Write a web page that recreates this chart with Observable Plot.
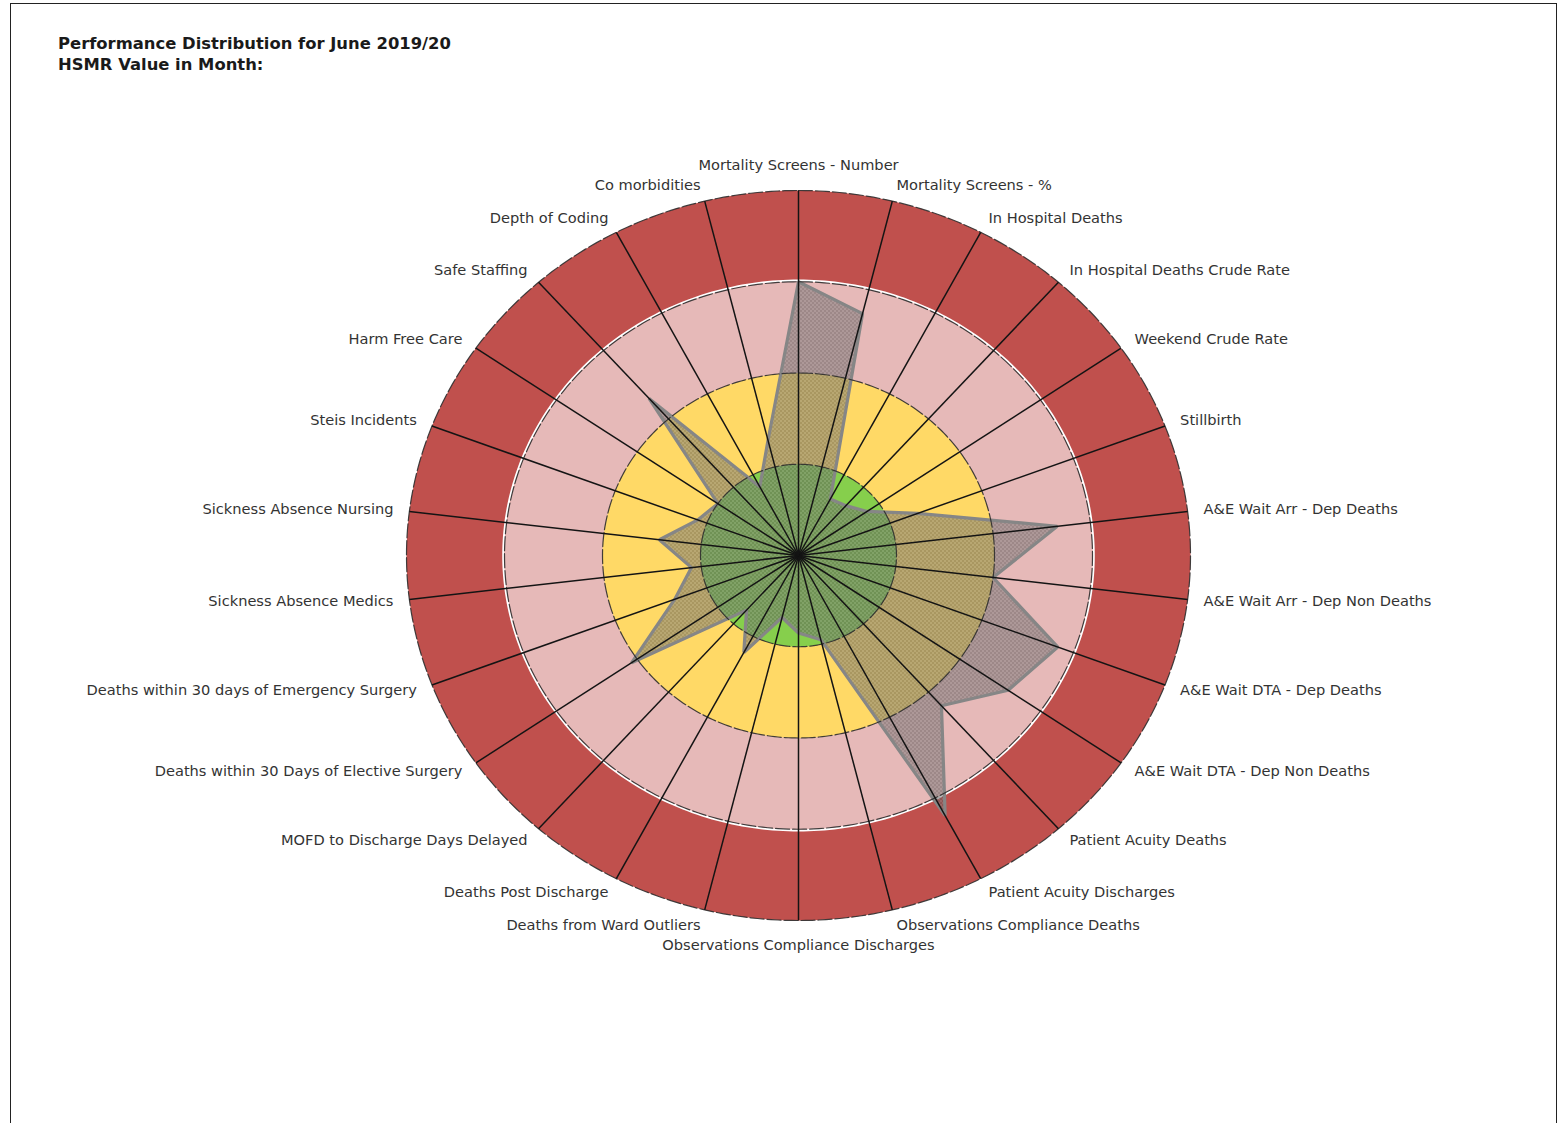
<!DOCTYPE html>
<html>
<head>
<meta charset="utf-8">
<script src="https://cdn.jsdelivr.net/npm/d3@7"></script>
<script src="https://cdn.jsdelivr.net/npm/@observablehq/plot@0.6"></script>
<style>
  html, body { margin: 0; padding: 0; background: #fff; }
  #page { position: relative; width: 1560px; height: 1123px; overflow: hidden; }
  #frame { position: absolute; left: 10px; top: 3px; width: 1545px; height: 1200px;
           border-top: 1.5px solid #222; border-left: 1.5px solid #222; border-right: 1.5px solid #222; }
  #title { position: absolute; left: 58px; top: 33px; font-family: "DejaVu Sans", Verdana, sans-serif;
           font-weight: bold; font-size: 16.4px; line-height: 21px; color: #1a1a1a; }
  #chart { position: absolute; left: 0; top: 0; }
</style>
</head>
<body>
<div id="page">
  <div id="frame"></div>
  <div id="chart"></div>
  <div id="title">Performance Distribution for June 2019/20<br>HSMR Value in Month:</div>
</div>
<script>
// ---- data ----
const categories = [
  "Mortality Screens - Number", "Mortality Screens - %", "In Hospital Deaths",
  "In Hospital Deaths Crude Rate", "Weekend Crude Rate", "Stillbirth",
  "A&E Wait Arr - Dep Deaths", "A&E Wait Arr - Dep Non Deaths", "A&E Wait DTA - Dep Deaths",
  "A&E Wait DTA - Dep Non Deaths", "Patient Acuity Deaths", "Patient Acuity Discharges",
  "Observations Compliance Deaths", "Observations Compliance Discharges", "Deaths from Ward Outliers",
  "Deaths Post Discharge", "MOFD to Discharge Days Delayed", "Deaths within 30 Days of Elective Surgery",
  "Deaths within 30 days of Emergency Surgery", "Sickness Absence Medics", "Sickness Absence Nursing",
  "Steis Incidents", "Harm Free Care", "Safe Staffing", "Depth of Coding", "Co morbidities"
];
// performance score in band units (0-1 green, 1-2 amber, 2-3 pink, 3-4 red)
const values = [
  3.00, 2.73, 0.70, 0.73, 0.85, 1.30,
  2.66, 2.00, 2.83, 2.60, 2.20, 3.22,
  0.95, 0.85, 0.70, 1.20, 0.80, 2.07,
  1.35, 1.10, 1.43, 1.10, 1.00, 2.30,
  0.85, 1.30
];
const bandNames = ["Green", "Amber", "Pink", "Red"];
const bandUpper = [1, 2, 3, 4];
const bandColors = ["#86cf4c", "#ffd966", "#e6b9b8", "#c0504d"];

// ---- layout ----
const W = 1560, H = 1123;
const CX = 798, CY = 555, RX = 392, RY = 365;
const RMAX = 4;
const pxX = RX / RMAX, pxY = RY / RMAX;
const n = categories.length;

const rows = categories.map((name, i) => ({ name, value: values[i], a: 2 * Math.PI * i / n }));
const ring = r => d3.range(0, 360, 1).map(d => ({ x: r * Math.sin(d * Math.PI / 180), y: r * Math.cos(d * Math.PI / 180) }));

const labels = rows.map(d => {
  const s = Math.sin(d.a), c = Math.cos(d.a);
  const vx = s * pxX, vy = c * pxY, len = Math.hypot(vx, vy);
  const mid = Math.abs(s) < 1e-6;
  const off = mid ? 25 : 16;
  return { ...d,
    lx: RMAX * s + off * (vx / len) / pxX,
    ly: RMAX * c + off * (vy / len) / pxY,
    anchor: mid ? "middle" : (s > 0 ? "start" : "end") };
});

const bands = bandUpper.map((r, i) => ({ name: bandNames[i], r, color: bandColors[i] })).reverse();

const labelStyle = { fill: "#333", fontSize: 14.6, fontFamily: "DejaVu Sans, Verdana, sans-serif" };

const svg = Plot.plot({
  width: W, height: H, margin: 0,
  x: { domain: [-RMAX, RMAX], range: [CX - RX, CX + RX], axis: null },
  y: { domain: [-RMAX, RMAX], range: [CY + RY, CY - RY], axis: null },
  style: { background: "transparent", overflow: "visible" },
  marks: [
    ...bands.map(b => Plot.line(ring(b.r), { x: "x", y: "y", curve: "linear-closed", fill: b.color, stroke: "none" })),
    Plot.line(ring(3.012), { x: "x", y: "y", curve: "linear-closed", stroke: "#ffffff", strokeWidth: 2.2 }),
    Plot.line(rows, {
      x: d => d.value * Math.sin(d.a), y: d => d.value * Math.cos(d.a),
      curve: "linear-closed", fill: "url(#dotfill)", stroke: "#868686", strokeWidth: 3.2, strokeLinejoin: "miter"
    }),
    ...bandUpper.map(r => Plot.line(ring(r), { x: "x", y: "y", curve: "linear-closed", stroke: "#2e2e2e", strokeWidth: 1.2, strokeDasharray: "14,3", strokeOpacity: 0.9 })),
    Plot.link(rows, { x1: 0, y1: 0, x2: d => RMAX * Math.sin(d.a), y2: d => RMAX * Math.cos(d.a), stroke: "#141414", strokeWidth: 1.5 }),
    Plot.text(labels.filter(d => d.anchor === "start"), { x: "lx", y: "ly", text: "name", textAnchor: "start", ...labelStyle }),
    Plot.text(labels.filter(d => d.anchor === "end"), { x: "lx", y: "ly", text: "name", textAnchor: "end", ...labelStyle }),
    Plot.text(labels.filter(d => d.anchor === "middle"), { x: "lx", y: "ly", text: "name", textAnchor: "middle", ...labelStyle })
  ]
});

// dotted fill pattern for the performance polygon
const defs = d3.select(svg).insert("defs", ":first-child");
const pat = defs.append("pattern").attr("id", "dotfill").attr("width", 4).attr("height", 4).attr("patternUnits", "userSpaceOnUse");
pat.append("rect").attr("width", 4).attr("height", 4).attr("fill", "#646464").attr("fill-opacity", 0.5);
pat.append("rect").attr("x", 0).attr("y", 0).attr("width", 1).attr("height", 1).attr("fill", "#ffffff").attr("fill-opacity", 0.35);
pat.append("rect").attr("x", 2).attr("y", 2).attr("width", 1).attr("height", 1).attr("fill", "#ffffff").attr("fill-opacity", 0.35);
pat.append("rect").attr("x", 2).attr("y", 0).attr("width", 1).attr("height", 1).attr("fill", "#303030").attr("fill-opacity", 0.25);
pat.append("rect").attr("x", 0).attr("y", 2).attr("width", 1).attr("height", 1).attr("fill", "#303030").attr("fill-opacity", 0.25);

document.getElementById("chart").appendChild(svg);
</script>
</body>
</html>
